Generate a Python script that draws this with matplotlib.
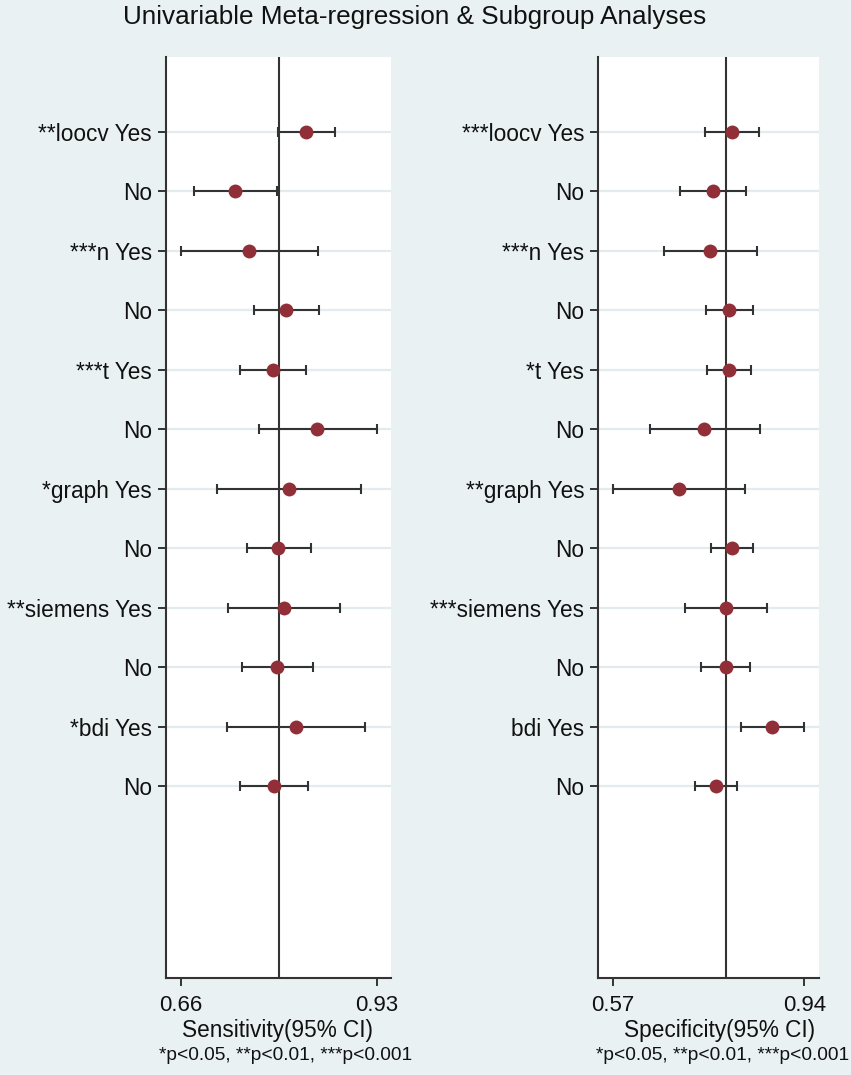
import matplotlib
matplotlib.use("Agg")
import matplotlib.pyplot as plt
import numpy as np

plt.rcParams['font.family'] = ['Liberation Sans', 'DejaVu Sans']

# ---------------- data ----------------
sens_labels = ["**loocv Yes", "No", "***n Yes", "No", "***t Yes", "No",
               "*graph Yes", "No", "**siemens Yes", "No", "*bdi Yes", "No"]
sens_est = [0.833, 0.735, 0.754, 0.805, 0.787, 0.848, 0.809, 0.794, 0.802, 0.793, 0.819, 0.788]
sens_lo = [0.794, 0.678, 0.660, 0.761, 0.741, 0.767, 0.710, 0.751, 0.725, 0.744, 0.724, 0.742]
sens_hi = [0.873, 0.793, 0.849, 0.851, 0.832, 0.930, 0.908, 0.839, 0.879, 0.842, 0.914, 0.835]
sens_overall = 0.795
sens_ticks = [0.66, 0.93]

spec_labels = ["***loocv Yes", "No", "***n Yes", "No", "*t Yes", "No",
               "**graph Yes", "No", "***siemens Yes", "No", "bdi Yes", "No"]
spec_est = [0.801, 0.763, 0.758, 0.794, 0.794, 0.747, 0.698, 0.801, 0.788, 0.788, 0.878, 0.769]
spec_lo = [0.749, 0.700, 0.669, 0.750, 0.752, 0.641, 0.570, 0.760, 0.710, 0.741, 0.818, 0.729]
spec_hi = [0.853, 0.827, 0.849, 0.840, 0.838, 0.854, 0.826, 0.841, 0.867, 0.835, 0.940, 0.810]
spec_overall = 0.789
spec_ticks = [0.57, 0.94]

title = "Univariable Meta-regression & Subgroup Analyses"
sens_xlabel = "Sensitivity(95% CI)"
spec_xlabel = "Specificity(95% CI)"
footnote = "*p<0.05, **p<0.01, ***p<0.001"

# ---------------- style ----------------
BG = '#e9f1f3'
GRID = '#e2ecef'
MARK = '#912f39'
LINE = '#333333'
TXT = '#111111'

W, H = 851, 1075
fig = plt.figure(figsize=(W / 100, H / 100), dpi=100, facecolor=BG)


def px_box(x0, x1, ytop, ybot):
    return [x0 / W, 1 - ybot / H, (x1 - x0) / W, (ybot - ytop) / H]


def panel(ax, labels, est, lo, hi, overall, ticks, xlim):
    n = len(labels)
    y = np.arange(n)
    ax.set_facecolor('white')
    for yy in y:
        ax.axhline(yy, color=GRID, lw=1.6, zorder=0)
    ax.axvline(overall, color=LINE, lw=1.5, zorder=1)
    est = np.asarray(est); lo = np.asarray(lo); hi = np.asarray(hi)
    ax.errorbar(est, y, xerr=[est - lo, hi - est], fmt='none', ecolor=LINE,
                elinewidth=1.5, capsize=3.8, capthick=1.5, zorder=2)
    ax.plot(est, y, 'o', color=MARK, markersize=10, markeredgewidth=0, zorder=3)
    ax.set_xlim(*xlim)
    ax.set_ylim(14.22, -1.26)
    ax.set_yticks(y)
    ax.set_yticklabels(labels, fontsize=16.3, color=TXT)
    ax.set_xticks(ticks)
    ax.set_xticklabels([f"{t:.2f}" for t in ticks], fontsize=16, color=TXT)
    ax.tick_params(axis='y', length=6, width=1.4, color=LINE, pad=4)
    ax.tick_params(axis='x', length=6, width=1.4, color=LINE, pad=6)
    for s in ['top', 'right']:
        ax.spines[s].set_visible(False)
    for s in ['left', 'bottom']:
        ax.spines[s].set_color(LINE)
        ax.spines[s].set_linewidth(1.5)


ax1 = fig.add_axes(px_box(166, 390.7, 57, 978))
panel(ax1, sens_labels, sens_est, sens_lo, sens_hi, sens_overall, sens_ticks,
      (0.6393, 0.9493))
ax2 = fig.add_axes(px_box(598.3, 819, 57, 978))
panel(ax2, spec_labels, spec_est, spec_lo, spec_hi, spec_overall, spec_ticks,
      (0.5421, 0.9684))

fig.text(415 / W, 1 - 17 / H, title, ha='center', va='center', fontsize=18.8, color=TXT)
fig.text(278 / W, 1 - 1031 / H, sens_xlabel, ha='center', va='center', fontsize=16.3, color=TXT)
fig.text(720 / W, 1 - 1031 / H, spec_xlabel, ha='center', va='center', fontsize=16.3, color=TXT)
fig.text(286 / W, 1 - 1056 / H, footnote, ha='center', va='center', fontsize=13.8, color=TXT)
fig.text(723 / W, 1 - 1056 / H, footnote, ha='center', va='center', fontsize=13.8, color=TXT)

fig.savefig('out.png', dpi=100, facecolor=BG)
